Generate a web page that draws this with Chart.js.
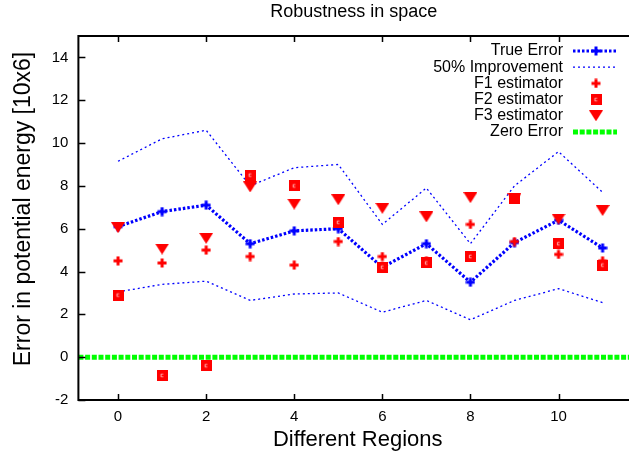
<!DOCTYPE html>
<html>
<head>
<meta charset="utf-8">
<title>Robustness in space</title>
<script src="https://cdn.jsdelivr.net/npm/chart.js@4.4.1/dist/chart.umd.min.js"></script>
<style>
  html, body { margin: 0; padding: 0; background: #fff; }
  #wrap { width: 629px; height: 460px; }
</style>
</head>
<body>
<div id="wrap"><canvas id="chart" width="629" height="460"></canvas></div>
<script>
// Region indices along the x axis
const regions = [0, 1, 2, 3, 4, 5, 6, 7, 8, 9, 10, 11];

// Measured error per region
const trueError = [6.1, 6.8, 7.1, 5.3, 5.9, 6.0, 4.2, 5.3, 3.5, 5.35, 6.4, 5.1];

// 50% improvement band (upper and lower)
const improvementHigh = [9.15, 10.2, 10.6, 8.0, 8.85, 9.0, 6.2, 7.9, 5.3, 8.0, 9.6, 7.7];
const improvementLow = [3.05, 3.4, 3.55, 2.65, 2.95, 3.0, 2.1, 2.65, 1.75, 2.65, 3.2, 2.55];

// Estimator results
const f1Estimator = [4.5, 4.4, 5.0, 4.7, 4.3, 5.4, 4.7, 4.5, 6.2, 5.4, 4.8, 4.5];
const f2Estimator = [2.9, -0.85, -0.4, 8.5, 8.0, 6.3, 4.2, 4.4, 4.7, 7.4, 5.3, 4.3];
const f3Estimator = [6.05, 5.05, 5.55, 7.95, 7.15, 7.35, 6.95, 6.55, 7.45, 7.4, 6.45, 6.85];

// Axis ranges and tick spacing
const xRange = [-0.9, 11.6];
const yRange = [-2, 15];
const xTickStep = 2;
const yTickStep = 2;

const FONT = "'Liberation Sans', Arial, sans-serif";
const BLUE = '#0000ff';
const RED = '#ff0000';
const GREEN = '#00ff00';

function pts(ys) { return regions.map((x, i) => ({ x: x, y: ys[i] })); }

// Marker sprites
function plusMarker(color) {
  const c = document.createElement('canvas');
  c.width = 10; c.height = 10;
  const g = c.getContext('2d');
  g.fillStyle = color;
  g.fillRect(3.5, 0.5, 3, 9);
  g.fillRect(0.5, 3.5, 9, 3);
  return c;
}
function squareMarker(color) {
  const c = document.createElement('canvas');
  c.width = 11; c.height = 11;
  const g = c.getContext('2d');
  g.fillStyle = color;
  g.fillRect(0, 0, 11, 11);
  g.strokeStyle = 'rgba(255,255,255,0.85)';
  g.lineWidth = 0.8;
  g.beginPath();
  g.moveTo(6.6, 4.2); g.lineTo(4.4, 4.2); g.lineTo(4.4, 6.8); g.lineTo(6.6, 6.8);
  g.stroke();
  return c;
}
function triangleMarker(color) {
  const c = document.createElement('canvas');
  c.width = 14; c.height = 11;
  const g = c.getContext('2d');
  g.fillStyle = color;
  g.beginPath();
  g.moveTo(0, 0); g.lineTo(14, 0); g.lineTo(7, 11); g.closePath();
  g.fill();
  return c;
}

const bluePlus = plusMarker(BLUE);
const redPlus = plusMarker(RED);
const redSquare = squareMarker(RED);
const redTriangle = triangleMarker(RED);

const datasets = [
  {
    label: 'True Error', data: pts(trueError), showLine: true,
    borderColor: BLUE, borderWidth: 3.2, borderDash: [2.5, 2],
    pointStyle: bluePlus, pointRadius: 5, order: 7, legendMarker: bluePlus
  },
  {
    label: '50% Improvement', data: pts(improvementHigh), showLine: true,
    borderColor: BLUE, borderWidth: 1.3, borderDash: [2, 3],
    pointRadius: 0, order: 6
  },
  {
    label: '50% Improvement (low)', data: pts(improvementLow), showLine: true,
    borderColor: BLUE, borderWidth: 1.3, borderDash: [2, 3],
    pointRadius: 0, order: 5, hideInLegend: true
  },
  {
    label: 'F1 estimator', data: pts(f1Estimator), showLine: false,
    pointStyle: redPlus, pointRadius: 5, order: 4, legendMarker: redPlus, noLine: true
  },
  {
    label: 'F2 estimator', data: pts(f2Estimator), showLine: false,
    pointStyle: redSquare, pointRadius: 5, order: 3, legendMarker: redSquare, noLine: true
  },
  {
    label: 'F3 estimator', data: pts(f3Estimator), showLine: false,
    pointStyle: redTriangle, pointRadius: 5, order: 2, legendMarker: redTriangle, noLine: true
  },
  {
    label: 'Zero Error', data: [{ x: xRange[0], y: 0 }, { x: xRange[1], y: 0 }], showLine: true,
    borderColor: GREEN, borderWidth: 5, borderDash: [5, 1.7],
    pointRadius: 0, order: 1
  }
];

// Frame with inward ticks, titles and key
const decorations = {
  id: 'decorations',
  afterDatasetsDraw(chart) {
    const ctx = chart.ctx;
    const a = chart.chartArea;
    const xs = chart.scales.x, ys = chart.scales.y;
    ctx.save();
    ctx.strokeStyle = '#000';
    ctx.lineWidth = 2;
    ctx.beginPath();
    ctx.moveTo(a.left, a.bottom); ctx.lineTo(a.right, a.bottom);
    ctx.moveTo(a.left, a.top); ctx.lineTo(a.right, a.top);
    ctx.moveTo(a.left, a.top - 1); ctx.lineTo(a.left, a.bottom + 1);
    ctx.stroke();
    ctx.lineWidth = 1.5;
    ctx.beginPath();
    xs.ticks.forEach(t => {
      const px = Math.round(xs.getPixelForValue(t.value)) + 0.5;
      ctx.moveTo(px, a.bottom); ctx.lineTo(px, a.bottom - 6);
      ctx.moveTo(px, a.top); ctx.lineTo(px, a.top + 6);
    });
    ys.ticks.forEach(t => {
      const py = Math.round(ys.getPixelForValue(t.value)) + 0.5;
      ctx.moveTo(a.left, py); ctx.lineTo(a.left + 7, py);
    });
    ctx.stroke();

    // Titles
    ctx.fillStyle = '#000';
    ctx.textAlign = 'center';
    ctx.textBaseline = 'middle';
    ctx.font = '18px ' + FONT;
    ctx.fillText('Robustness in space', (a.left + a.right) / 2, 12);
    ctx.font = '22px ' + FONT;
    ctx.fillText('Different Regions', (a.left + a.right) / 2 + 4, 440);
    ctx.save();
    ctx.translate(24, (a.top + a.bottom) / 2 - 9);
    ctx.rotate(-Math.PI / 2);
    ctx.font = '23px ' + FONT;
    ctx.fillText('Error in potential energy [10x6]', 0, 0);
    ctx.restore();

    // Key
    const textRight = 563, sampleL = 573, sampleR = 617, markX = 596;
    let y = 51;
    ctx.font = '16px ' + FONT;
    ctx.textAlign = 'right';
    chart.data.datasets.forEach(ds => {
      if (ds.hideInLegend) return;
      ctx.fillStyle = '#000';
      ctx.fillText(ds.label, textRight, y);
      if (!ds.noLine) {
        ctx.save();
        ctx.strokeStyle = ds.borderColor;
        ctx.lineWidth = ds.borderWidth;
        ctx.setLineDash(ds.borderDash || []);
        ctx.beginPath();
        ctx.moveTo(sampleL, y); ctx.lineTo(sampleR, y);
        ctx.stroke();
        ctx.restore();
      }
      if (ds.legendMarker) {
        const m = ds.legendMarker;
        ctx.drawImage(m, markX - m.width / 2, y - m.height / 2);
      }
      y += 16.2;
    });
    ctx.restore();
  }
};

new Chart(document.getElementById('chart'), {
  type: 'scatter',
  data: { datasets: datasets },
  options: {
    responsive: false,
    animation: false,
    devicePixelRatio: 1,
    layout: { autoPadding: false, padding: { top: 36, right: 0, left: 0, bottom: 0 } },
    elements: { line: { tension: 0, fill: false } },
    plugins: { legend: { display: false }, tooltip: { enabled: false }, title: { display: false } },
    scales: {
      x: {
        type: 'linear', min: xRange[0], max: xRange[1],
        border: { display: false },
        grid: { display: false, drawTicks: false },
        ticks: { stepSize: xTickStep, includeBounds: false, padding: 8, color: '#000', font: { size: 15, family: FONT } },
        afterFit(s) { s.height = 60; }
      },
      y: {
        type: 'linear', min: yRange[0], max: yRange[1],
        border: { display: false },
        grid: { display: false, drawTicks: false },
        ticks: { stepSize: yTickStep, includeBounds: false, padding: 10, color: '#000', font: { size: 15, family: FONT } },
        afterFit(s) { s.width = 78.4; }
      }
    }
  },
  plugins: [decorations]
});
</script>
</body>
</html>
